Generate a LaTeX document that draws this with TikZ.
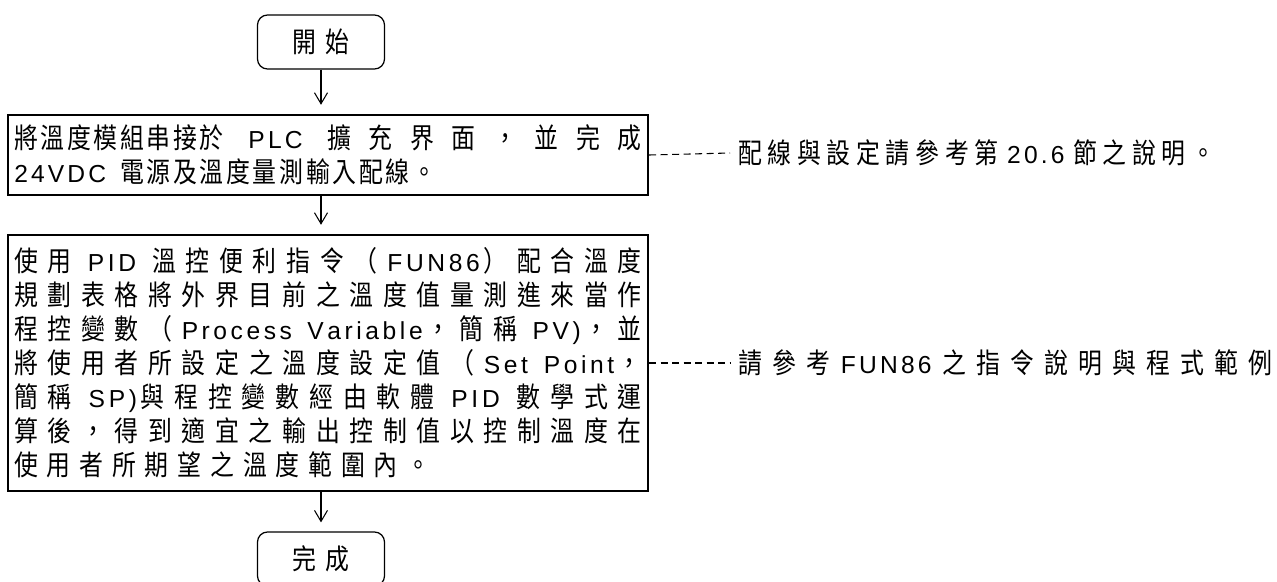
\documentclass[tikz,border=0pt]{standalone}
\usepackage{fontspec}
\newfontfamily\cjkfam{Noto Sans CJK TC}[FakeStretch=0.85]
\newfontfamily\latfam{Liberation Sans}
\newcommand\cjkfont{\cjkfam\fontsize{16}{19.35}\selectfont}
\newcommand\latfont{\latfam\fontsize{14}{19.35}\selectfont}
\newlength\cjktrack \setlength\cjktrack{5pt plus 1pt minus 0.3pt}
\newlength\lattrack \setlength\lattrack{1.8pt plus 0.5pt}
\newcommand\widetext[1][5pt]{\cjkfont\setlength\cjktrack{#1 plus 1pt minus 0.3pt}\spaceskip=6pt plus 6pt minus 1pt\tolerance=10000 }
\newcommand\midtext{\cjkfont\setlength\cjktrack{3.2pt}\spaceskip=5pt }
\newcommand\tighttext{\cjkfont\setlength\cjktrack{1.5pt}\spaceskip=14pt\parfillskip=0pt plus 1fill\tolerance=10000 }
\newXeTeXintercharclass\cjkcls
\newXeTeXintercharclass\latcls
\newcount\cjkidx
\cjkidx="4E00
\loop \XeTeXcharclass\cjkidx=\cjkcls \advance\cjkidx by 1 \ifnum\cjkidx<"A000 \repeat
\XeTeXcharclass"FF08=\cjkcls \XeTeXcharclass"FF09=\cjkcls
\XeTeXcharclass"FF0C=\cjkcls \XeTeXcharclass"3002=\cjkcls
\cjkidx=`A
\loop \XeTeXcharclass\cjkidx=\latcls \advance\cjkidx by 1 \ifnum\cjkidx<`[ \repeat
\cjkidx=`a
\loop \XeTeXcharclass\cjkidx=\latcls \advance\cjkidx by 1 \ifnum\cjkidx<`\{ \repeat
\cjkidx=`0
\loop \XeTeXcharclass\cjkidx=\latcls \advance\cjkidx by 1 \ifnum\cjkidx<`: \repeat
\XeTeXcharclass`.=\latcls \XeTeXcharclass`)=\latcls
\XeTeXinterchartoks 4095 \cjkcls={\cjkfont}
\XeTeXinterchartoks 4095 \latcls={\latfont}
\XeTeXinterchartoks \cjkcls\cjkcls={\hskip\cjktrack}
\XeTeXinterchartoks \cjkcls\latcls={\hskip\cjktrack\latfont}
\XeTeXinterchartoks \latcls\latcls={\hskip\lattrack}
\XeTeXinterchartoks \latcls\cjkcls={\hskip\lattrack\cjkfont}
\XeTeXinterchartokenstate=1
\usetikzlibrary{arrows.meta}

\begin{document}
\begin{tikzpicture}[
  blk/.style={draw, line width=1.4pt, rectangle, minimum width=12.8cm, text width=12.55cm,
              inner xsep=0.125cm, align=justify},
  term/.style={draw, line width=0.7pt, rounded corners=0.2cm, minimum width=2.54cm,
               minimum height=1.08cm, font=\widetext},
  arr/.style={line width=0.6pt, -{Straight Barb[length=0.22cm, width=0.26cm]}, shorten >=0.18cm},
  lnk/.style={line width=0.6pt, dash pattern=on 0.14cm off 0.09cm},
  note/.style={anchor=west, inner xsep=0.16cm}
]
\useasboundingbox (0,0) rectangle (25.54,-11.62);
\node[term] (start) at (6.42,-0.84) {開始};
\node[blk, minimum height=1.6cm, font=\tighttext] (wire) at (6.56,-3.1)
  {將溫度模組串接於 PLC \setlength\cjktrack{1.5pt plus 1fil}擴充界面，並完成\linebreak
   \setlength\cjktrack{1.5pt}\spaceskip=8pt 24VDC 電源及溫度量測輸入配線。};
\node[blk, minimum height=5.12cm, font=\widetext] (pid) at (6.56,-7.26)
  {使用 PID 溫控便利指令（FUN86）配合溫度\linebreak
   規劃表格將外界目前之溫度值量測進來當作\linebreak
   程控變數（Process Variable，簡稱 PV)，並\linebreak
   將使用者所設定之溫度設定值（Set Point，\linebreak
   簡稱 SP)與程控變數經由軟體 PID 數學式運\linebreak
   算後，得到適宜之輸出控制值以控制溫度在\linebreak
   使用者所期望之溫度範圍內。};
\node[term] (done) at (6.42,-11.18) {完成};
\node[note, font=\midtext] (wnote) at (14.6,-3.06) {配線與設定請參考第 20.6 節之說明。};
\node[note, font={\widetext[5.8pt]}] (pnote) at (14.6,-7.26) {請參考 FUN86 之指令說明與程式範例};
\draw[arr] (start) -- (start |- wire.north);
\draw[arr] (start |- wire.south) -- (start |- pid.north);
\draw[arr] (start |- pid.south) -- (done);
\draw[lnk] (wire.east) -- (wnote.west);
\draw[lnk] (pid.east) -- (pnote.west);
\end{tikzpicture}
\end{document}
